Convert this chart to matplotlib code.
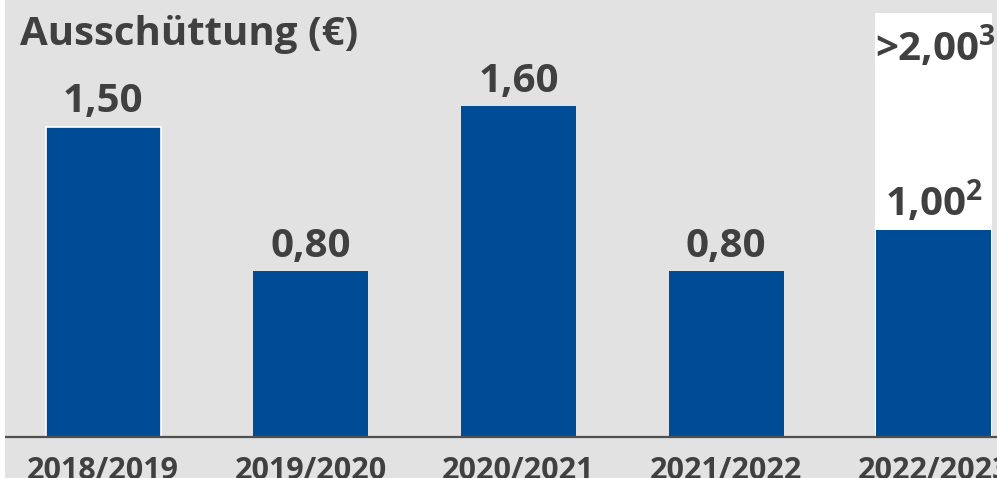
import matplotlib
matplotlib.use("Agg")
import matplotlib.pyplot as plt

plt.rcParams["mathtext.fontset"] = "custom"
plt.rcParams["mathtext.rm"] = "Open Sans:bold"
plt.rcParams["mathtext.bf"] = "Open Sans:bold"

categories = ["2018/2019", "2019/2020", "2020/2021", "2021/2022", "2022/2023"]
values = [1.50, 0.80, 1.60, 0.80, 1.00]
value_labels = ["1,50", "0,80", "1,60", "0,80", r"1,00$^{\mathbf{2}}$"]
outlook_value = 2.00
outlook_label = r">2,00$^{\mathbf{3}}$"
title = "Ausschüttung (€)"

BLUE = "#004b96"
GREY_BG = "#e2e2e2"
TEXT = "#404040"
FONT = ["Open Sans", "DejaVu Sans"]

W, H = 997, 478
fig = plt.figure(figsize=(W / 100, H / 100), dpi=100, facecolor="white")

# axes covering the grey panel (white strip on far left)
left_px = 5
ax = fig.add_axes([left_px / W, 0, (W - left_px) / W, 1])
ax.set_facecolor(GREY_BG)

spacing = 207.7
ppu = 206.6
base_px = 436.7
c0 = 103
ax.set_xlim((left_px - c0) / spacing, (W - c0) / spacing)
ax.set_ylim(-(H - base_px) / ppu, base_px / ppu)

xs = list(range(len(categories)))
bw = 115 / spacing

# white highlight panel behind the last bar
ax.bar(xs[-1], (base_px - 13) / ppu, width=117 / spacing, color="white", zorder=1)

bars = ax.bar(xs, values, width=bw, color=BLUE, zorder=2)
bars[0].set_edgecolor("white")
bars[0].set_linewidth(1.2)

ax.axhline(0, color="#505050", lw=1.6, zorder=3)

for x, v, lab in zip(xs, values, value_labels):
    ax.text(x, v + 0.07, lab, ha="center", va="baseline", fontsize=29,
            fontweight="bold", color=TEXT, family=FONT, zorder=4)

ax.text(xs[-1] + 0.01, 1.82, outlook_label, ha="center", va="baseline", fontsize=29,
        fontweight="bold", color=TEXT, family=FONT, zorder=4)

for x, c in zip(xs, categories):
    ax.text(x, -(479 - base_px) / ppu, c, ha="center", va="baseline", fontsize=22,
            fontweight="bold", color=TEXT, family=FONT, zorder=4)

ax.text((20 - c0) / spacing, (base_px - 45) / ppu, title, ha="left", va="baseline",
        fontsize=29, fontweight="bold", color=TEXT, family=FONT, zorder=4)

ax.set_xticks([])
ax.set_yticks([])
for s in ax.spines.values():
    s.set_visible(False)

fig.savefig("out.png", dpi=100, facecolor="white")
